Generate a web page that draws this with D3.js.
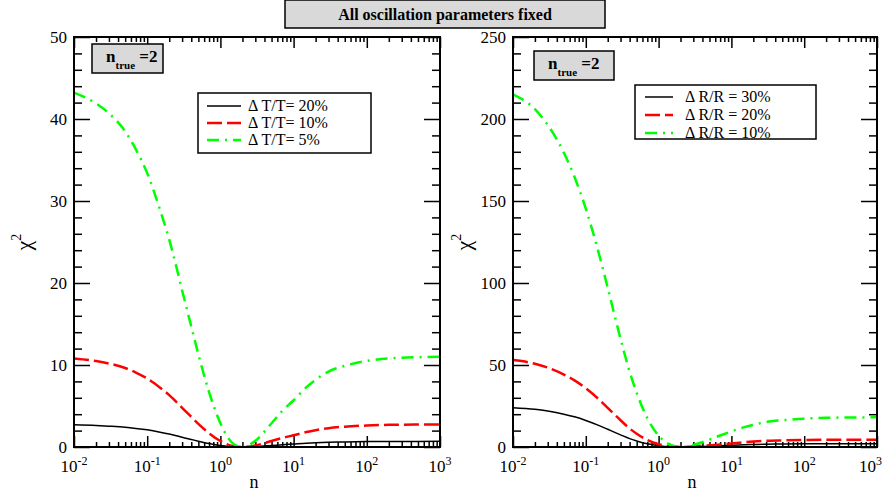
<!DOCTYPE html>
<html>
<head>
<meta charset="utf-8">
<script src="https://cdn.jsdelivr.net/npm/d3@7"></script>
<style>
  body { margin: 0; background: #fff; }
  svg { display: block; }
  text { font-family: "Liberation Serif", "Times New Roman", serif; fill: #000; }
</style>
</head>
<body>
<svg id="chart" width="883" height="493"></svg>
<script>
// sampled values of n (log-spaced)
const nValues = [0.01, 0.02, 0.03, 0.05, 0.07, 0.1, 0.15, 0.2, 0.25, 0.3, 0.4, 0.5, 0.7, 1.0, 1.5, 2,
                 3, 5, 7, 10, 15, 20, 30, 50, 100, 200, 500, 1000];

// left panel: chi^2 for Delta T/T
const dT20 = [2.70, 2.62, 2.54, 2.41, 2.27, 2.09, 1.81, 1.58, 1.38, 1.19, 0.92, 0.71, 0.42, 0.18, 0.03, 0,
              0.05, 0.18, 0.27, 0.36, 0.46, 0.51, 0.57, 0.62, 0.66, 0.68, 0.68, 0.69];
const dT10 = [10.8, 10.48, 10.18, 9.63, 9.08, 8.35, 7.23, 6.33, 5.5, 4.78, 3.68, 2.83, 1.68, 0.73, 0.1, 0,
              0.19, 0.73, 1.1, 1.43, 1.83, 2.05, 2.3, 2.48, 2.62, 2.7, 2.74, 2.75];
const dT5  = [43.2, 41.9, 40.7, 38.5, 36.3, 33.4, 28.9, 25.3, 22.0, 19.1, 14.7, 11.3, 6.7, 2.9, 0.4, 0,
              0.75, 2.9, 4.4, 5.7, 7.3, 8.2, 9.2, 9.9, 10.5, 10.8, 10.95, 11.0];

// right panel: chi^2 for Delta R/R
const dR30 = [24.0, 23.0, 21.9, 20.0, 18.4, 16.2, 13.2, 10.8, 8.9, 7.4, 5.1, 3.7, 1.96, 0.77, 0.12, 0,
              0.15, 0.5, 0.78, 1.06, 1.35, 1.5, 1.7, 1.82, 1.93, 1.99, 2.0, 2.02];
const dR20 = [53.0, 50.8, 48.4, 44.2, 40.6, 35.8, 29.2, 23.9, 19.7, 16.3, 11.3, 8.1, 4.3, 1.7, 0.27, 0,
              0.32, 1.1, 1.5, 2.1, 2.9, 3.3, 3.75, 4.0, 4.26, 4.38, 4.44, 4.46];
const dR10 = [215, 206, 196.4, 179.4, 164.6, 145.4, 118.5, 97.1, 79.8, 66.0, 46.0, 33.0, 17.6, 6.9, 1.1, 0,
              1.3, 4.5, 7.0, 9.5, 12.1, 13.5, 15.2, 16.3, 17.3, 17.8, 18.0, 18.1];

const xMajorExps = [-2, -1, 0, 1, 2, 3];
const leftYTicks = [0, 10, 20, 30, 40, 50];
const rightYTicks = [0, 50, 100, 150, 200, 250];
const leftLabels = ["\u0394 T/T= 20%", "\u0394 T/T= 10%", "\u0394 T/T= 5%"];
const rightLabels = ["\u0394 R/R = 30%", "\u0394 R/R = 20%", "\u0394 R/R = 10%"];
const titleText = "All oscillation parameters fixed";

const styles = [
  { color: "#000000", width: 1.5, dash: null },
  { color: "#ff0000", width: 2.5, dash: "15,5" },
  { color: "#00ff00", width: 2.5, dash: "12,6,2,6" }
];

const svg = d3.select("#chart");

function minorTicks() {
  const out = [];
  for (let e = -2; e < 3; e++) for (let k = 2; k <= 9; k++) out.push(k * Math.pow(10, e));
  return out;
}

function drawPanel(cfg) {
  const x = d3.scaleLog().domain([1e-2, 1e3]).range([cfg.x0, cfg.x1]);
  const y = d3.scaleLinear().domain([0, cfg.yMax]).range([cfg.y1, cfg.y0]);
  const g = svg.append("g");

  const majors = xMajorExps.map(e => Math.pow(10, e));
  const minors = minorTicks();
  const yMinor = d3.range(0, cfg.yMax + 1e-9, cfg.yMinorStep).filter(v => !cfg.yTicks.includes(v));

  const tickStyle = sel => {
    sel.select(".domain").remove();
    sel.selectAll("line").attr("stroke", "#000").attr("stroke-width", 1.5);
  };

  // x ticks (bottom and top, pointing inward)
  g.append("g").attr("transform", `translate(0,${cfg.y1})`)
    .call(d3.axisBottom(x).tickValues(majors).tickSize(-11).tickFormat("")).call(tickStyle);
  g.append("g").attr("transform", `translate(0,${cfg.y1})`)
    .call(d3.axisBottom(x).tickValues(minors).tickSize(-5).tickFormat("")).call(tickStyle);
  g.append("g").attr("transform", `translate(0,${cfg.y0})`)
    .call(d3.axisTop(x).tickValues(majors).tickSize(-11).tickFormat("")).call(tickStyle);
  g.append("g").attr("transform", `translate(0,${cfg.y0})`)
    .call(d3.axisTop(x).tickValues(minors).tickSize(-5).tickFormat("")).call(tickStyle);

  // y ticks (left and right, pointing inward)
  g.append("g").attr("transform", `translate(${cfg.x0},0)`)
    .call(d3.axisLeft(y).tickValues(cfg.yTicks).tickSize(-16).tickFormat("")).call(tickStyle);
  g.append("g").attr("transform", `translate(${cfg.x0},0)`)
    .call(d3.axisLeft(y).tickValues(yMinor).tickSize(-8).tickFormat("")).call(tickStyle);
  g.append("g").attr("transform", `translate(${cfg.x1},0)`)
    .call(d3.axisRight(y).tickValues(cfg.yTicks).tickSize(-16).tickFormat("")).call(tickStyle);
  g.append("g").attr("transform", `translate(${cfg.x1},0)`)
    .call(d3.axisRight(y).tickValues(yMinor).tickSize(-8).tickFormat("")).call(tickStyle);

  // curves
  const clipId = "clip" + cfg.id;
  svg.append("clipPath").attr("id", clipId).append("rect")
    .attr("x", cfg.x0).attr("y", cfg.y0).attr("width", cfg.x1 - cfg.x0).attr("height", cfg.y1 - cfg.y0);
  const line = d3.line().x((d, i) => x(nValues[i])).y(d => y(d)).curve(d3.curveMonotoneX);
  const cg = g.append("g").attr("clip-path", `url(#${clipId})`);
  cfg.series.forEach((s, i) => {
    const st = styles[i];
    cg.append("path").datum(s).attr("d", line)
      .attr("fill", "none").attr("stroke", st.color).attr("stroke-width", st.width)
      .attr("stroke-dasharray", st.dash);
  });

  // frame
  g.append("rect").attr("x", cfg.x0).attr("y", cfg.y0)
    .attr("width", cfg.x1 - cfg.x0).attr("height", cfg.y1 - cfg.y0)
    .attr("fill", "none").attr("stroke", "#000").attr("stroke-width", 2);

  // x tick labels 10^e (the last one on the right panel is kept inside the page)
  majors.forEach((m, i) => {
    const last = cfg.clampLast && i === majors.length - 1;
    const t = g.append("text").attr("x", last ? 882 : x(m)).attr("y", cfg.y1 + 25)
      .attr("text-anchor", last ? "end" : "middle").attr("font-size", 17);
    t.append("tspan").text("10");
    t.append("tspan").attr("font-size", 12).attr("dy", -7).text(String(xMajorExps[i]));
  });

  // y tick labels
  cfg.yTicks.forEach(v => {
    g.append("text").attr("x", cfg.x0 - 7).attr("y", y(v) + 6)
      .attr("text-anchor", "end").attr("font-size", 17).text(v);
  });

  // axis titles
  g.append("text").attr("x", (cfg.x0 + cfg.x1) / 2 - 3).attr("y", cfg.y1 + 41)
    .attr("text-anchor", "middle").attr("font-size", 18).text("n");
  const yl = g.append("text")
    .attr("transform", `translate(${cfg.yLabelX},${(cfg.y0 + cfg.y1) / 2}) rotate(-90)`)
    .attr("text-anchor", "middle").attr("font-size", 22);
  yl.append("tspan").text("\u03c7");
  yl.append("tspan").attr("font-size", 14).attr("dy", -10).text("2");

  // n_true box
  const b = cfg.box;
  g.append("rect").attr("x", b.x).attr("y", b.y).attr("width", b.w).attr("height", b.h)
    .attr("fill", "#d9d9d9").attr("stroke", "#000").attr("stroke-width", 1.5);
  const bt = g.append("text").attr("x", b.x + 14).attr("y", b.y + 18)
    .attr("font-weight", "bold").attr("font-size", 17);
  bt.append("tspan").text("n");
  bt.append("tspan").attr("font-size", 11).attr("dy", 7).text("true");
  bt.append("tspan").attr("dy", -7).text(" =2");

  // legend
  const L = cfg.legend;
  g.append("rect").attr("x", L.x).attr("y", L.y).attr("width", L.w).attr("height", L.h)
    .attr("fill", "#fff").attr("stroke", "#000").attr("stroke-width", 1.5);
  cfg.labels.forEach((lab, i) => {
    const yy = L.y + L.row0 + i * L.rowH;
    const st = styles[i];
    g.append("line").attr("x1", L.x + L.lx0).attr("x2", L.x + L.lx1).attr("y1", yy).attr("y2", yy)
      .attr("stroke", st.color).attr("stroke-width", st.width).attr("stroke-dasharray", st.dash);
    g.append("text").attr("x", L.x + L.tx).attr("y", yy + 5).attr("font-size", 16).text(lab);
  });
}

drawPanel({
  id: "L", x0: 74, x1: 440, y0: 37, y1: 447, yMax: 50, yTicks: leftYTicks, yMinorStep: 2,
  series: [dT20, dT10, dT5], labels: leftLabels, yLabelX: 31, clampLast: false,
  box: { x: 92, y: 44, w: 71, h: 29 },
  legend: { x: 198, y: 93, w: 173, h: 60, row0: 13, rowH: 17, lx0: 9, lx1: 43, tx: 50 }
});

drawPanel({
  id: "R", x0: 513, x1: 877, y0: 37, y1: 447, yMax: 250, yTicks: rightYTicks, yMinorStep: 10,
  series: [dR30, dR20, dR10], labels: rightLabels, yLabelX: 471, clampLast: true,
  box: { x: 534, y: 51, w: 80, h: 29 },
  legend: { x: 635, y: 85, w: 181, h: 54, row0: 12, rowH: 18, lx0: 10, lx1: 38, tx: 50 }
});

// title box
svg.append("rect").attr("x", 285).attr("y", 0).attr("width", 320).attr("height", 28)
  .attr("fill", "#d9d9d9").attr("stroke", "#000").attr("stroke-width", 1.5);
svg.append("text").attr("x", 445).attr("y", 20).attr("text-anchor", "middle")
  .attr("font-weight", "bold").attr("font-size", 16).text(titleText);
</script>
</body>
</html>
